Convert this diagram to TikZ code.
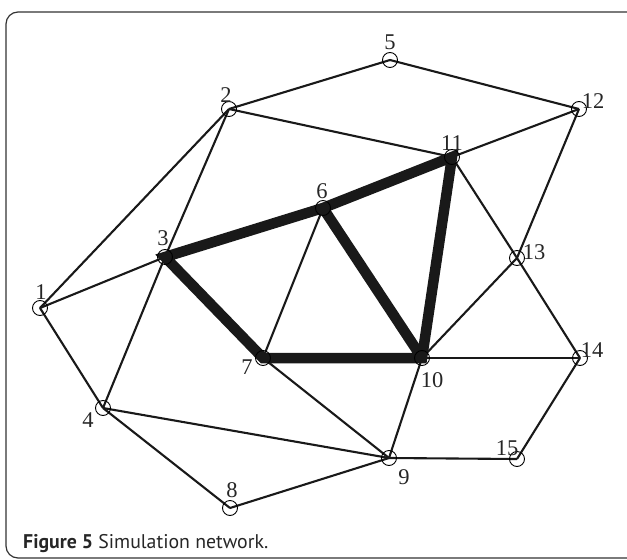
\documentclass[tikz,border=0pt]{standalone}
\usepackage{fontspec}
\setmainfont{Liberation Serif}
\newfontfamily\capfont{PT Sans}
\begin{document}
\begin{tikzpicture}[x=1pt,y=-1pt,
  vtx/.style={circle,draw,line width=0.9pt,minimum size=15pt,inner sep=0pt},
  lbl/.style={inner sep=0pt,font=\fontsize{22.5}{22}\selectfont,text=black!85},
  thin/.style={line width=2.1pt,black!90},
  heavy/.style={line width=10.5pt,black!90,line join=miter}]
\useasboundingbox (0,0) rectangle (627,560);
\clip (0,0) rectangle (627,560);
\draw[line width=1.2pt,black!80,rounded corners=12pt] (6,12) rectangle (660,558);
% vertices
\coordinate (c1) at (40,308);
\coordinate (c2) at (229,109);
\coordinate (c3) at (165,257);
\coordinate (c4) at (103,408);
\coordinate (c5) at (390,60);
\coordinate (c6) at (323,208);
\coordinate (c7) at (263,358);
\coordinate (c8) at (230,508);
\coordinate (c9) at (389,458);
\coordinate (c10) at (422,358);
\coordinate (c11) at (452,157);
\coordinate (c12) at (579,109);
\coordinate (c13) at (517,258);
\coordinate (c14) at (580,358);
\coordinate (c15) at (517,459);
% thin edges
\foreach \a/\b in {1/2,1/3,1/4,2/3,2/5,2/11,5/12,11/12,3/4,6/7,7/9,4/9,4/8,8/9,11/13,12/13,13/10,13/14,10/14,10/9,14/15,9/15}
  \draw[thin] (c\a) -- (c\b);
% heavy edges
\draw[heavy] (c3) -- (c6) -- (c11) -- (c10) -- (c7) -- cycle;
\draw[heavy] (c6) -- (c10);
% circles
\foreach \i in {1,...,15}
  \node[vtx] (v\i) at (c\i) {};
% labels
\node[lbl] (l1) at (41,292) {1};
\node[lbl] (l2) at (226,95) {2};
\node[lbl] (l3) at (163,238) {3};
\node[lbl] (l4) at (88,420) {4};
\node[lbl] (l5) at (390,42) {5};
\node[lbl] (l6) at (322,191) {6};
\node[lbl] (l7) at (247,367) {7};
\node[lbl] (l8) at (232,490) {8};
\node[lbl] (l9) at (404,477) {9};
\node[lbl] (l10) at (432,380) {10};
\node[lbl] (l11) at (452,143) {11};
\node[lbl] (l12) at (593,101) {12};
\node[lbl] (l13) at (534,252) {13};
\node[lbl] (l14) at (592,350) {14};
\node[lbl] (l15) at (507,448) {15};
\node[anchor=base west,inner sep=0pt,font=\capfont\fontsize{19.8}{22}\selectfont,text=black!85] (cap) at (23,548) {\textbf{Figure 5} Simulation network.};
\end{tikzpicture}
\end{document}
